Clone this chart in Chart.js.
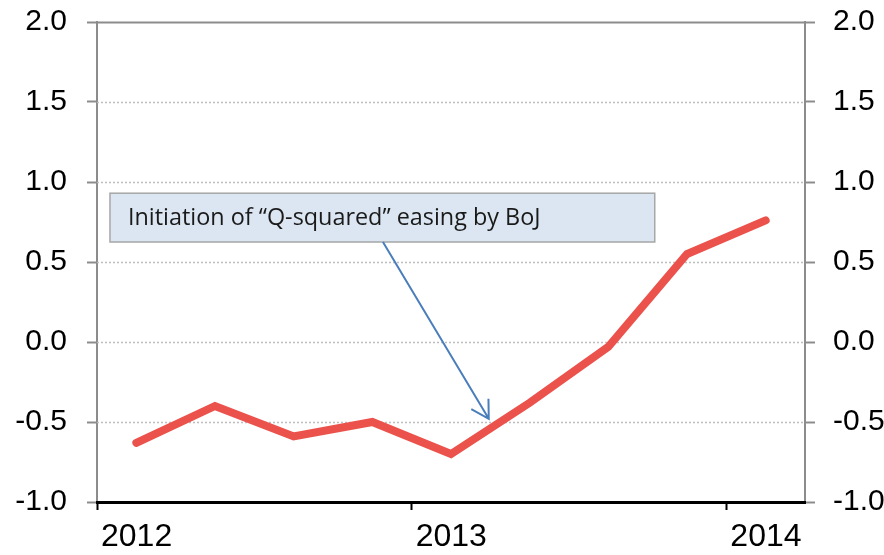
<!DOCTYPE html>
<html lang="en">
<head>
<meta charset="UTF-8">
<title>Q-squared easing</title>
<script src="https://cdn.jsdelivr.net/npm/chart.js"></script>
<style>
  body { margin: 0; background: #fff; }
  .wrap { width: 884px; height: 555px; }
</style>
</head>
<body>
<div class="wrap"><canvas id="chart"></canvas></div>
<script>
// x = quarters counted from the start of 2012, points sit mid-quarter
const quarters = [0.5, 1.5, 2.5, 3.5, 4.5, 5.5, 6.5, 7.5, 8.5];
const values = [-0.63, -0.40, -0.59, -0.50, -0.70, -0.38, -0.03, 0.55, 0.76];
const yearTicks = [0, 4, 8];
const yearLabels = ['2012', '2013', '2014'];
const yTicks = [-1.0, -0.5, 0.0, 0.5, 1.0, 1.5, 2.0];

const noteText = 'Initiation of \u201cQ-squared\u201d easing by BoJ';
// note box and arrow in data units (quarters, value)
const noteBox = { x0: 0.165, x1: 7.09, y0: 0.93, y1: 0.625 };
const noteArrow = { x0: 3.635, y0: 0.625, x1: 4.98, y1: -0.48 };

const gridAndNote = {
  id: 'gridAndNote',
  beforeDatasetsDraw(chart) {
    const { ctx, chartArea: a, scales: { y } } = chart;
    ctx.save();
    yTicks.forEach(v => {
      if (v === -1) return;
      const py = Math.round(y.getPixelForValue(v)) + 0.5;
      ctx.beginPath();
      if (v === 2) {
        ctx.setLineDash([]);
        ctx.strokeStyle = '#8c8c8c';
        ctx.lineWidth = 2;
      } else {
        ctx.setLineDash([2, 2]);
        ctx.strokeStyle = '#bdbdbd';
        ctx.lineWidth = 1.5;
      }
      ctx.moveTo(a.left, py);
      ctx.lineTo(a.right, py);
      ctx.stroke();
    });
    ctx.restore();
  },
  afterDatasetsDraw(chart) {
    const { ctx, scales: { x, y } } = chart;
    ctx.save();
    // box
    const bx = x.getPixelForValue(noteBox.x0), bx1 = x.getPixelForValue(noteBox.x1);
    const by = y.getPixelForValue(noteBox.y0), by1 = y.getPixelForValue(noteBox.y1);
    ctx.fillStyle = '#dce6f2';
    ctx.strokeStyle = '#a6a6a6';
    ctx.lineWidth = 1.5;
    ctx.fillRect(bx, by, bx1 - bx, by1 - by);
    ctx.strokeRect(bx, by, bx1 - bx, by1 - by);
    // text, sized to the width it takes in the original
    let size = 20;
    ctx.font = size + 'px "Open Sans"';
    size = size * 412 / ctx.measureText(noteText).width;
    ctx.font = size.toFixed(1) + 'px "Open Sans"';
    ctx.fillStyle = '#1a1a1a';
    ctx.textBaseline = 'middle';
    ctx.fillText(noteText, bx + 18, (by + by1) / 2 + 1);
    // arrow
    const ax = x.getPixelForValue(noteArrow.x0), ay = y.getPixelForValue(noteArrow.y0);
    const tx = x.getPixelForValue(noteArrow.x1), ty = y.getPixelForValue(noteArrow.y1);
    ctx.strokeStyle = '#4a7ebb';
    ctx.lineWidth = 2;
    ctx.beginPath();
    ctx.moveTo(ax, ay);
    ctx.lineTo(tx, ty);
    const ang = Math.atan2(ty - ay, tx - ax) + Math.PI;
    const len = 20;
    ctx.moveTo(tx + len * Math.cos(ang - Math.PI / 6), ty + len * Math.sin(ang - Math.PI / 6));
    ctx.lineTo(tx, ty);
    ctx.lineTo(tx + len * Math.cos(ang + Math.PI / 6), ty + len * Math.sin(ang + Math.PI / 6));
    ctx.stroke();
    ctx.restore();
  }
};

const yAxis = (position, width, pad) => ({
  type: 'linear',
  position: position,
  min: -1,
  max: 2,
  afterFit: s => {
    s.width = width;
    s.paddingTop = 0;
    s.paddingBottom = 0;
  },
  afterBuildTicks: s => { s.ticks = yTicks.map(v => ({ value: v })); },
  grid: { drawOnChartArea: false, tickLength: 10, tickColor: '#8c8c8c', tickWidth: 2 },
  border: { color: '#8c8c8c', width: 2 },
  ticks: {
    padding: pad,
    color: '#000',
    font: { family: '"Liberation Sans", Arial', size: 30 },
    callback: v => v.toFixed(1)
  }
});

new Chart(document.getElementById('chart'), {
  type: 'line',
  data: {
    datasets: [{
      data: quarters.map((q, i) => ({ x: q, y: values[i] })),
      borderColor: '#ec524c',
      borderWidth: 8,
      borderCapStyle: 'round',
      pointRadius: 0,
      tension: 0
    }]
  },
  options: {
    responsive: true,
    maintainAspectRatio: false,
    animation: false,
    layout: { padding: { top: 22, left: 0, right: 0, bottom: 0 } },
    plugins: { legend: { display: false }, tooltip: { enabled: false } },
    scales: {
      x: {
        type: 'linear',
        min: 0,
        max: 9,
        afterFit: s => {
          s.height = 53;
          s.paddingLeft = 0;
          s.paddingRight = 0;
        },
        afterBuildTicks: s => { s.ticks = yearTicks.map(v => ({ value: v })); },
        grid: { drawOnChartArea: false, tickLength: 8, tickColor: '#000', tickWidth: 2 },
        border: { color: '#000', width: 3, z: 1 },
        ticks: {
          align: 'start',
          labelOffset: 4,
          padding: 8,
          maxRotation: 0,
          color: '#000',
          font: { family: '"Liberation Sans", Arial', size: 32 },
          callback: v => yearLabels[yearTicks.indexOf(v)]
        }
      },
      y: yAxis('left', 97, 20),
      y2: yAxis('right', 79, 18)
    }
  },
  plugins: [gridAndNote]
});
</script>
</body>
</html>
